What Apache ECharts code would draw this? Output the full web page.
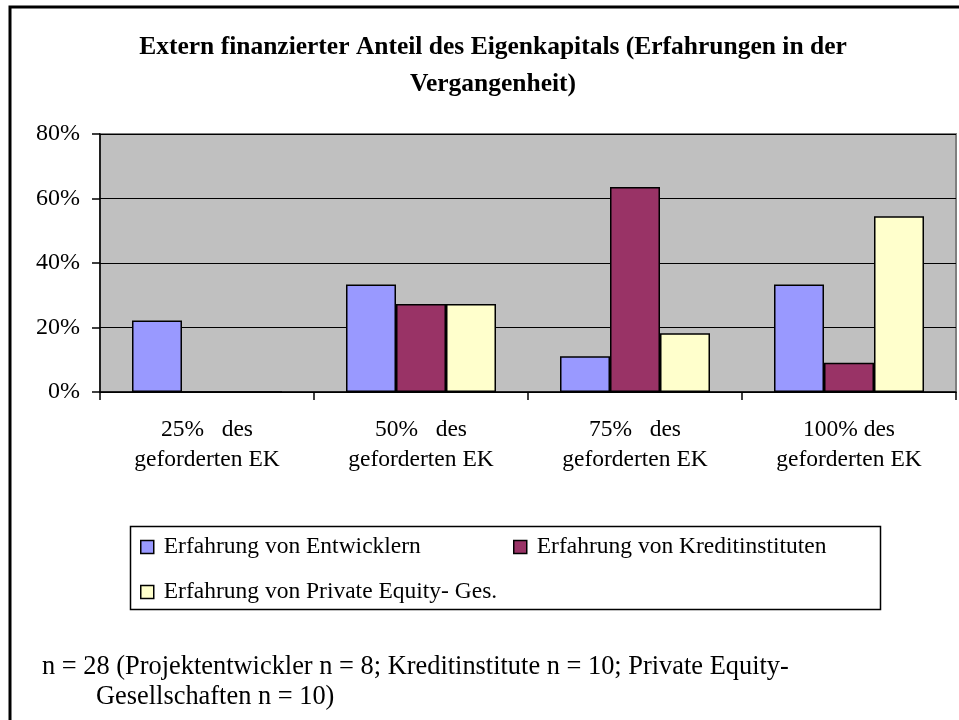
<!DOCTYPE html>
<html>
<head>
<meta charset="utf-8">
<script src="https://cdn.jsdelivr.net/npm/echarts@6/dist/echarts.min.js"></script>
<style>
html,body{margin:0;padding:0;background:#fff;}
#chart{width:959px;height:720px;}
</style>
</head>
<body>
<div id="chart"></div>
<script>
const categories = ['25%   des\ngeforderten EK', '50%   des\ngeforderten EK', '75%   des\ngeforderten EK', '100% des\ngeforderten EK'];
const seriesNames = ['Erfahrung von Entwicklern', 'Erfahrung von Kreditinstituten', 'Erfahrung von Private Equity- Ges.'];
const entwickler = [22.2, 33.3, 11.1, 33.3];
const kreditinstitute = [0, 27.3, 63.6, 9.1];
const privateEquity = [0, 27.3, 18.2, 54.5];
const yTicks = [0, 20, 40, 60, 80];
const titleText = 'Extern finanzierter Anteil des Eigenkapitals (Erfahrungen in der\nVergangenheit)';
const noteLine1 = 'n = 28 (Projektentwickler n = 8; Kreditinstitute n = 10; Private Equity-';
const noteLine2 = 'Gesellschaften n = 10)';

const FONT = 'Liberation Serif';
const colors = ['#9999FF', '#993366', '#FFFFCC'];
const seriesData = [entwickler, kreditinstitute, privateEquity];

const chart = echarts.init(document.getElementById('chart'));
const legendTextStyle = {fontFamily: FONT, fontSize: 23.5, color: '#000', padding: [0, 0, 0, 5]};
const legendBase = {
  orient: 'horizontal', padding: 0, itemWidth: 13, itemHeight: 13, icon: 'rect',
  textStyle: legendTextStyle, selectedMode: false,
  itemStyle: {borderColor: '#000', borderWidth: 1.5}
};
chart.setOption({
  animation: false,
  title: {
    text: titleText,
    left: 488, top: 23.5, textAlign: 'center',
    textStyle: {fontFamily: FONT, fontSize: 25.5, fontWeight: 'bold', color: '#000', lineHeight: 37}
  },
  grid: {
    left: 100, right: 3, top: 134, bottom: 328,
    show: true, backgroundColor: '#C0C0C0', borderColor: '#808080', borderWidth: 2
  },
  legend: [
    Object.assign({}, legendBase, {left: 140, top: 535, data: [seriesNames[0]]}),
    Object.assign({}, legendBase, {left: 513, top: 535, data: [seriesNames[1]]}),
    Object.assign({}, legendBase, {left: 140, top: 580, data: [seriesNames[2]]})
  ],
  xAxis: {
    type: 'category', data: categories,
    axisLine: {lineStyle: {color: '#000', width: 1.5}},
    axisTick: {show: true, length: 8, alignWithLabel: false, lineStyle: {color: '#000', width: 1.5}},
    axisLabel: {fontFamily: FONT, fontSize: 23.5, color: '#000', lineHeight: 30, margin: 23, interval: 0}
  },
  yAxis: {
    type: 'value', min: yTicks[0], max: yTicks[yTicks.length - 1], interval: 20,
    axisLine: {show: true, lineStyle: {color: '#000', width: 1.5}},
    axisTick: {show: true, length: 8, lineStyle: {color: '#000', width: 1.5}},
    splitLine: {show: true, lineStyle: {color: '#000', width: 1}},
    axisLabel: {fontFamily: FONT, fontSize: 24, color: '#000', margin: 20, formatter: v => v + '%'}
  },
  series: seriesNames.map((name, i) => ({
    name: name, type: 'bar', data: seriesData[i],
    barWidth: 50, barGap: '0%',
    itemStyle: {color: colors[i], borderColor: '#000', borderWidth: 1.5}
  })),
  graphic: [
    {type: 'rect', shape: {x: 10, y: 7, width: 1000, height: 1000}, style: {fill: 'none', stroke: '#000', lineWidth: 3}, z: 100},
    {type: 'rect', shape: {x: 130.5, y: 526.5, width: 750, height: 83}, style: {fill: 'none', stroke: '#000', lineWidth: 1.5}, z: 100},
    {type: 'text', x: 42, y: 667, style: {text: noteLine1, font: '26.4px "Liberation Serif"', fill: '#000', textVerticalAlign: 'middle'}},
    {type: 'text', x: 96, y: 697, style: {text: noteLine2, font: '26.4px "Liberation Serif"', fill: '#000', textVerticalAlign: 'middle'}}
  ]
});
</script>
</body>
</html>
